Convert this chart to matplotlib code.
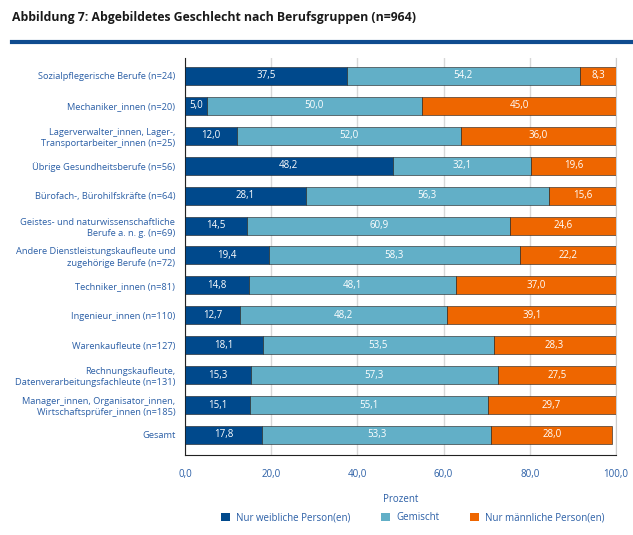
import matplotlib
matplotlib.use("Agg")
import matplotlib.pyplot as plt
import numpy as np

categories = [
    "Sozialpflegerische Berufe (n=24)",
    "Mechaniker_innen (n=20)",
    "Lagerverwalter_innen, Lager-,\nTransportarbeiter_innen (n=25)",
    "Übrige Gesundheitsberufe (n=56)",
    "Bürofach-, Bürohilfskräfte (n=64)",
    "Geistes- und naturwissenschaftliche\nBerufe a. n. g. (n=69)",
    "Andere Dienstleistungskaufleute und\nzugehörige Berufe (n=72)",
    "Techniker_innen (n=81)",
    "Ingenieur_innen (n=110)",
    "Warenkaufleute (n=127)",
    "Rechnungskaufleute,\nDatenverarbeitungsfachleute (n=131)",
    "Manager_innen, Organisator_innen,\nWirtschaftsprüfer_innen (n=185)",
    "Gesamt",
]
weiblich = [37.5, 5.0, 12.0, 48.2, 28.1, 14.5, 19.4, 14.8, 12.7, 18.1, 15.3, 15.1, 17.8]
gemischt = [54.2, 50.0, 52.0, 32.1, 56.3, 60.9, 58.3, 48.1, 48.2, 53.5, 57.3, 55.1, 53.3]
maennlich = [8.3, 45.0, 36.0, 19.6, 15.6, 24.6, 22.2, 37.0, 39.1, 28.3, 27.5, 29.7, 28.0]
series_names = ["Nur weibliche Person(en)", "Gemischt", "Nur männliche Person(en)"]
xticks = [0, 20, 40, 60, 80, 100]
xticklabels = ["0,0", "20,0", "40,0", "60,0", "80,0", "100,0"]

colors = ["#00498C", "#62AFC7", "#EE6600"]
txtcol = "#2B5FA6"
plt.rcParams['font.family'] = ['Open Sans', 'DejaVu Sans']

fig = plt.figure(figsize=(6.33, 5.35), dpi=100)
ax = fig.add_axes([185/633, 1-455/535, (616-185)/633, (455-58)/535])

y = np.arange(len(categories))
left = np.zeros(len(categories))
for vals, col, name in zip([weiblich, gemischt, maennlich], colors, series_names):
    vals = np.array(vals)
    ax.barh(y, vals, left=left, height=0.6, color=col, edgecolor="#1a1a1a",
            linewidth=0.4, label=name, zorder=3)
    for yi, l, v in zip(y, left, vals):
        ax.text(l + v/2, yi, f"{v:.1f}".replace(".", ","), ha="center", va="center",
                color="white", fontsize=7, zorder=4)
    left += vals

ax.set_ylim(len(categories) - 1 + 0.67, -0.6)
ax.set_xlim(0, 100)
ax.set_yticks(y)
ax.set_yticklabels(categories, fontsize=6.7, color=txtcol, linespacing=1.3)
ax.set_xticks(xticks)
ax.set_xticklabels(xticklabels, fontsize=7, color=txtcol)
ax.tick_params(axis="both", length=0)
ax.tick_params(axis="x", pad=10)
ax.tick_params(axis="y", pad=7)
ax.grid(axis="x", color="#d8d8d8", linewidth=1, zorder=0)
ax.spines["top"].set_visible(False)
ax.spines["right"].set_color("#cccccc")
ax.spines["left"].set_color("#222222")
ax.spines["bottom"].set_color("#222222")
ax.set_xlabel("Prozent", fontsize=7, color=txtcol, labelpad=10)

leg = fig.legend(loc="center", bbox_to_anchor=(0.652, 1-518/535), ncol=3, frameon=False,
                 fontsize=7, handlelength=0.9, handleheight=0.9, columnspacing=3.2,
                 handletextpad=0.6)
for t in leg.get_texts():
    t.set_color(txtcol)
for h in leg.legend_handles:
    h.set_edgecolor("none")

fig.text(12/633, 1-17/535, "Abbildung 7: Abgebildetes Geschlecht nach Berufsgruppen (n=964)",
         fontsize=8.8, fontweight="bold", color="#1a1a1a", va="center", ha="left")
fig.add_artist(plt.Line2D([12/633, 1.0], [1-42/535, 1-42/535], color="#0F4C8F",
                          linewidth=3, transform=fig.transFigure))

fig.savefig("out.png", dpi=100)
